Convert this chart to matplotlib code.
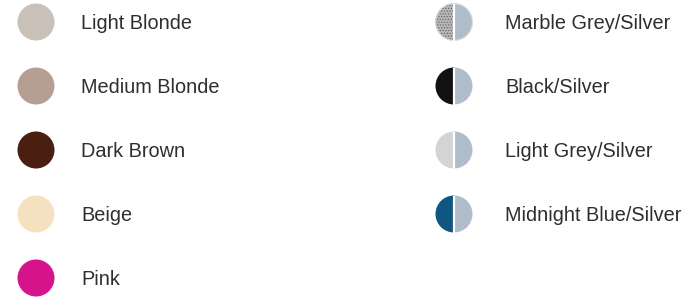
import matplotlib
matplotlib.use("Agg")
import matplotlib.pyplot as plt
from matplotlib.patches import Circle, Wedge

left_names = ["Light Blonde", "Medium Blonde", "Dark Brown", "Beige", "Pink"]
left_colors = ["#C9C0B7", "#B59F93", "#4A1E10", "#F5E1C0", "#D5148C"]

right_names = ["Marble Grey/Silver", "Black/Silver", "Light Grey/Silver", "Midnight Blue/Silver"]
right_colors = ["#B8B8BA", "#111111", "#D2D4D6", "#0F5680"]
silver = "#AFBDCB"

plt.rcParams["hatch.linewidth"] = 0.6

W, H = 684, 297
fig = plt.figure(figsize=(W / 100, H / 100), dpi=100)
ax = fig.add_axes([0, 0, 1, 1])
ax.set_xlim(0, W)
ax.set_ylim(H, 0)
ax.set_aspect("equal")
ax.axis("off")

r = 18.5
y0, dy = 22, 64
lx, ltx = 36, 81
rx, rtx = 454, 505
txt_kw = dict(fontsize=14.3, color="#2E2E2E", va="center", ha="left",
              family=["Liberation Sans", "DejaVu Sans"])

for i, (n, c) in enumerate(zip(left_names, left_colors)):
    y = y0 + i * dy
    ax.add_patch(Circle((lx, y), r, facecolor=c, edgecolor="none"))
    ax.text(ltx, y + 1.5, n, **txt_kw)

for i, (n, c) in enumerate(zip(right_names, right_colors)):
    y = y0 + i * dy
    hatch = "......" if i == 0 else None
    ax.add_patch(Wedge((rx, y), r, 90, 270, facecolor=c,
                       edgecolor="#6A6A6D" if hatch else "none",
                       hatch=hatch, linewidth=0))
    ax.add_patch(Wedge((rx, y), r, -90, 90, facecolor=silver, edgecolor="none"))
    ax.plot([rx, rx], [y - r, y + r], color="white", lw=1.6, solid_capstyle="butt")
    if i == 0:
        ax.add_patch(Circle((rx, y), r, facecolor="none", edgecolor="#DDDDDD", lw=0.8))
    ax.text(rtx, y + 1.5, n, **txt_kw)

fig.savefig("out.png", dpi=100)
